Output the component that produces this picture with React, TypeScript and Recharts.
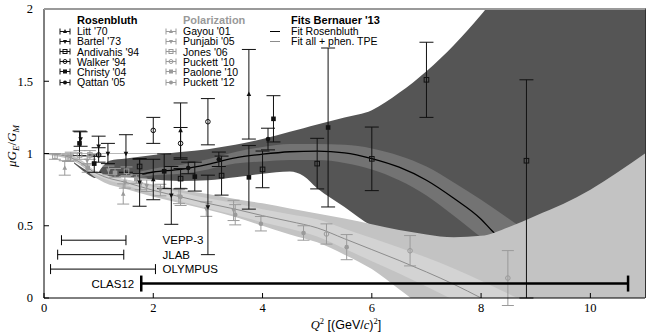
import React from "react";
import {
  ComposedChart,
  Area,
  Line,
  Scatter,
  ErrorBar,
  XAxis,
  YAxis,
  ReferenceDot,
} from "recharts";

// ---------- fit bands ----------
const rosBandX = [0.55, 0.75, 0.95, 1.05, 1.2, 1.5, 2.0, 2.5, 3.0, 3.5, 4.0, 4.5, 4.75, 5.0, 5.5, 6.0, 6.5, 7.0, 7.5, 8.0, 8.5, 9.0, 10.0, 11.0];
const rosBandHi = [0.94, 0.89, 0.85, 0.9, 0.95, 0.965, 0.99, 1.01, 1.03, 1.06, 1.1, 1.15, 1.175, 1.2, 1.25, 1.3, 1.42, 1.57, 1.75, 1.96, 2.2, 2.4, 2.6, 2.8];
const rosBandLo = [0.93, 0.87, 0.83, 0.83, 0.835, 0.835, 0.82, 0.81, 0.815, 0.835, 0.86, 0.875, 0.845, 0.76, 0.63, 0.5, 0.43, 0.41, 0.4, 0.42, 0.44, 0.45, 0.45, 0.45];

const rosStatX = [1.75, 2.0, 2.5, 3.0, 3.5, 4.0, 4.5, 5.0, 5.5, 6.0, 6.5, 7.0, 7.5, 8.0, 8.5, 9.0];
const rosStatHi = [0.875, 0.895, 0.92, 0.96, 1.01, 1.045, 1.065, 1.065, 1.06, 1.035, 0.985, 0.91, 0.8, 0.68, 0.55, 0.42];
const rosStatLo = [0.835, 0.85, 0.86, 0.89, 0.93, 0.945, 0.955, 0.955, 0.935, 0.89, 0.815, 0.71, 0.57, 0.42, 0.28, 0.15];

const rosFitX = [1.75, 2.0, 2.5, 3.0, 3.5, 4.0, 4.5, 5.0, 5.5, 6.0, 6.5, 7.0, 7.5, 8.0, 8.2, 8.5];
const rosFitY = [0.855, 0.872, 0.89, 0.925, 0.97, 0.995, 1.012, 1.017, 1.005, 0.965, 0.905, 0.815, 0.69, 0.545, 0.465, 0.36];

const polBandX = [0, 0.3, 0.5, 0.7, 0.9, 1.1, 1.5, 2.0, 2.5, 3.0, 3.5, 4.0, 4.5, 5.0, 5.5, 6.0, 6.5, 7.0, 7.5, 8.0, 8.5, 9.0, 9.5, 10.0, 10.5, 11.0];
const polBandHi = [1.0, 0.995, 0.985, 0.95, 0.89, 0.855, 0.82, 0.785, 0.75, 0.72, 0.685, 0.655, 0.62, 0.585, 0.55, 0.51, 0.47, 0.44, 0.42, 0.43, 0.49, 0.57, 0.65, 0.75, 0.87, 1.0];
const polBandLo = [0.995, 0.975, 0.955, 0.91, 0.845, 0.8, 0.755, 0.7, 0.655, 0.61, 0.56, 0.5, 0.44, 0.385, 0.3, 0.2, 0.06, -0.08, -0.2, -0.3, -0.4, -0.5, -0.5, -0.5, -0.5, -0.5];

const polFitX = [0, 0.3, 0.5, 0.7, 0.9, 1.1, 1.5, 2.0, 2.5, 3.0, 3.5, 4.0, 4.5, 5.0, 5.5, 6.0, 6.5, 7.0, 7.5, 8.0, 8.5, 9.0];
const polFitY = [1.0, 0.99, 0.97, 0.93, 0.875, 0.84, 0.8, 0.745, 0.7, 0.655, 0.615, 0.57, 0.53, 0.485, 0.41, 0.335, 0.26, 0.18, 0.095, 0.0, -0.1, -0.2];
const polStatHi = [1.0, 0.995, 0.975, 0.94, 0.89, 0.855, 0.82, 0.77, 0.73, 0.69, 0.655, 0.615, 0.58, 0.545, 0.48, 0.415, 0.35, 0.28, 0.205, 0.12, 0.03, -0.06];
const polStatLo = [0.995, 0.985, 0.96, 0.92, 0.86, 0.825, 0.78, 0.72, 0.67, 0.62, 0.575, 0.525, 0.48, 0.425, 0.34, 0.255, 0.17, 0.08, -0.015, -0.12, -0.23, -0.34];

// ---------- data points [Q2, ratio, error] ----------
type Pt = [number, number, number | [number, number]];

const litt70: Pt[] = [[2.0, 0.82, 0.14], [2.5, 1.16, 0.19], [3.75, 1.41, 0.31]];
const bartel73: Pt[] = [[0.67, 1.1, 0.05], [1.0, 1.05, 0.07], [1.17, 1.0, 0.07], [1.5, 1.0, 0.13], [1.75, 0.8, 0.165], [2.33, 0.71, 0.2], [3.0, 0.63, [0.33, 0.22]]];
const andivahis94: Pt[] = [[1.75, 0.91, 0.05], [2.5, 0.826, 0.07], [3.25, 0.847, 0.135], [4.0, 0.89, 0.127], [5.0, 0.93, 0.175], [6.0, 0.963, 0.22], [7.0, 1.51, 0.26], [8.83, 0.95, [0.95, 0.56]]];
const walker94: Pt[] = [[1.0, 0.99, 0.05], [2.0, 1.16, 0.09], [2.5, 1.07, 0.11], [3.0, 1.22, 0.16]];
const christy04: Pt[] = [[0.65, 1.07, 0.085], [0.92, 0.93, 0.06], [2.2, 0.877, 0.12], [2.76, 0.84, 0.1], [3.75, 0.835, 0.22], [4.2, 1.24, 0.16], [5.2, 1.18, 0.55]];
const qattan05: Pt[] = [[2.64, 0.9, 0.04], [3.2, 0.96, 0.05], [4.1, 1.1, 0.075]];

const gayou01: Pt[] = [[0.38, 0.9, 0.05], [1.45, 0.72, 0.07]];
const punjabi05: Pt[] = [[0.49, 0.979, 0.03], [0.79, 0.951, 0.03], [1.18, 0.883, 0.03], [1.48, 0.8, 0.04], [1.77, 0.789, 0.04], [1.88, 0.777, 0.04], [2.13, 0.747, 0.04], [2.47, 0.703, 0.05], [2.97, 0.615, 0.05], [3.47, 0.606, 0.07]];
const jones06: Pt[] = [[0.2, 0.98, 0.02], [0.44, 0.97, 0.025], [0.65, 0.99, 0.03], [0.84, 0.99, 0.03], [1.51, 0.877, 0.03]];
const puckett10: Pt[] = [[5.17, 0.443, 0.07], [6.7, 0.327, 0.105], [8.49, 0.138, 0.19]];
const paolone10: Pt[] = [[0.8, 0.9, 0.03], [1.3, 0.866, 0.03], [1.69, 0.824, 0.03]];
const puckett12: Pt[] = [[2.5, 0.7, 0.06], [3.5, 0.576, 0.07], [3.97, 0.514, 0.05], [4.75, 0.45, 0.05], [5.54, 0.352, 0.087]];

// ---------- kinematic reach of the experiments ----------
const reachNames = ["VEPP-3", "JLAB", "OLYMPUS", "CLAS12"];
const reachFrom = [0.32, 0.25, 0.12, 1.78];
const reachTo = [1.5, 1.46, 2.04, 10.69];
const reachAt = [0.4, 0.3, 0.2, 0.1];

const BLACK = "#111";
const GRAY = "#9a9a9a";
const LABEL_X = 2.17;

const band = (xs: number[], lo: number[], hi: number[]) =>
  xs.map((x, i) => ({ x, r: [lo[i], hi[i]] }));
const curve = (xs: number[], ys: number[]) => xs.map((x, i) => ({ x, y: ys[i] }));
const pts = (p: Pt[]) => p.map(([x, y, e]) => ({ x, y, e }));

const unity = [{ x: 0, y: 1 }, { x: 11, y: 1 }];

type Kind = "triUp" | "triDown" | "sqOpen" | "circOpen" | "sq" | "circ";

function glyph(kind: Kind, color: string, cx: number, cy: number, s = 2.3) {
  switch (kind) {
    case "triUp":
      return <polygon points={`${cx},${cy - s - 0.5} ${cx - s},${cy + s * 0.8} ${cx + s},${cy + s * 0.8}`} fill={color} />;
    case "triDown":
      return <polygon points={`${cx},${cy + s + 0.5} ${cx - s},${cy - s * 0.8} ${cx + s},${cy - s * 0.8}`} fill={color} />;
    case "sqOpen":
      return <rect x={cx - s} y={cy - s} width={2 * s} height={2 * s} fill="none" stroke={color} strokeWidth={1} />;
    case "circOpen":
      return <circle cx={cx} cy={cy} r={s} fill="none" stroke={color} strokeWidth={1} />;
    case "sq":
      return <rect x={cx - s} y={cy - s} width={2 * s} height={2 * s} fill={color} />;
    default:
      return <circle cx={cx} cy={cy} r={s} fill={color} />;
  }
}

const marker = (kind: Kind, color: string) => (p: any) => {
  if (p.cx == null || p.cy == null) return <g />;
  return <g>{glyph(kind, color, p.cx, p.cy)}</g>;
};

const rosSets: { name: string; kind: Kind; data: Pt[] }[] = [
  { name: "Litt '70", kind: "triUp", data: litt70 },
  { name: "Bartel '73", kind: "triDown", data: bartel73 },
  { name: "Andivahis '94", kind: "sqOpen", data: andivahis94 },
  { name: "Walker '94", kind: "circOpen", data: walker94 },
  { name: "Christy '04", kind: "sq", data: christy04 },
  { name: "Qattan '05", kind: "circ", data: qattan05 },
];
const polSets: { name: string; kind: Kind; data: Pt[] }[] = [
  { name: "Gayou '01", kind: "triUp", data: gayou01 },
  { name: "Punjabi '05", kind: "triDown", data: punjabi05 },
  { name: "Jones '06", kind: "sqOpen", data: jones06 },
  { name: "Puckett '10", kind: "circOpen", data: puckett10 },
  { name: "Paolone '10", kind: "sq", data: paolone10 },
  { name: "Puckett '12", kind: "circ", data: puckett12 },
];

const reach = reachNames.map((name, i) => ({
  name,
  x: (reachFrom[i] + reachTo[i]) / 2,
  y: reachAt[i],
  xe: (reachTo[i] - reachFrom[i]) / 2,
}));

const sans = '"Liberation Sans", Arial, sans-serif';
const serif = '"Liberation Serif", "Times New Roman", serif';
const LEG_FONT = 10.5;

const LegendGlyph: React.FC<{ kind: Kind; color: string }> = ({ kind, color }) => (
  <svg width={12} height={9} style={{ position: "absolute", left: -18, top: 0.5 }}>
    <line x1={1} x2={11} y1={4.5} y2={4.5} stroke={color} strokeWidth={1} />
    <line x1={1} x2={1} y1={1.5} y2={7.5} stroke={color} strokeWidth={1} />
    <line x1={11} x2={11} y1={1.5} y2={7.5} stroke={color} strokeWidth={1} />
    {glyph(kind, color, 6, 4.5, 2)}
  </svg>
);

const rowTop = [26, 36.3, 46.5, 56.7, 66.8, 77];

const LegendColumn: React.FC<{
  left: number;
  title: string;
  titleColor: string;
  sets: { name: string; kind: Kind }[];
  color: string;
}> = ({ left, title, titleColor, sets, color }) => (
  <>
    <div style={{ position: "absolute", left, top: 15, fontWeight: "bold", color: titleColor, fontSize: LEG_FONT + 0.5, lineHeight: "10px", whiteSpace: "nowrap" }}>
      {title}
    </div>
    {sets.map((s, i) => (
      <div key={s.name} style={{ position: "absolute", left, top: rowTop[i], fontSize: LEG_FONT, lineHeight: "10px", whiteSpace: "nowrap" }}>
        <LegendGlyph kind={s.kind} color={color} />
        {s.name}
      </div>
    ))}
  </>
);

export default function App() {
  return (
    <div style={{ position: "absolute", left: 0, top: 0, width: 664, height: 334, background: "#fff", fontFamily: sans }}>
      <ComposedChart width={664} height={334} margin={{ top: 9, right: 19, bottom: 16, left: 8 }}>
        <XAxis
          type="number"
          dataKey="x"
          domain={[0, 11]}
          ticks={[0, 2, 4, 6, 8, 10]}
          allowDataOverflow
          height={20}
          tickSize={-5}
          tickMargin={10}
          axisLine={{ stroke: "#000" }}
          tickLine={{ stroke: "#000" }}
          tick={{ fontFamily: serif, fontSize: 12.5, fill: "#000" }}
        />
        <YAxis
          type="number"
          domain={[0, 2]}
          ticks={[0, 0.5, 1, 1.5, 2]}
          allowDataOverflow
          width={36}
          tickSize={-5}
          tickMargin={16}
          axisLine={{ stroke: "#000" }}
          tickLine={{ stroke: "#000" }}
          tick={{ fontFamily: serif, fontSize: 12.5, fill: "#000" }}
        />
        {/* lines drawn as stroke-only areas so that they stay in paint order with the bands */}
        <Area data={unity} dataKey="y" type="linear" fill="none" stroke="#b8b8b8" strokeWidth={1} dot={false} activeDot={false} isAnimationActive={false} />

        <Area data={band(rosBandX, rosBandLo, rosBandHi)} dataKey="r" type="monotone" fill="#555555" fillOpacity={1} stroke="none" isAnimationActive={false} />
        <Area data={band(rosStatX, rosStatLo, rosStatHi)} dataKey="r" type="monotone" fill="#737373" fillOpacity={1} stroke="none" isAnimationActive={false} />
        <Area data={curve(rosFitX, rosFitY)} dataKey="y" type="monotone" fill="none" stroke="#000" strokeWidth={1.3} dot={false} activeDot={false} isAnimationActive={false} />

        <Area data={band(polBandX, polBandLo, polBandHi)} dataKey="r" type="monotone" fill="#c3c3c3" fillOpacity={1} stroke="none" isAnimationActive={false} />
        <Area data={band(polFitX, polStatLo, polStatHi)} dataKey="r" type="monotone" fill="#d3d3d3" fillOpacity={1} stroke="none" isAnimationActive={false} />
        <Line data={curve(polFitX, polFitY)} dataKey="y" type="monotone" stroke="#8c8c8c" strokeWidth={1} dot={false} activeDot={false} isAnimationActive={false} />

        {polSets.map((s) => (
          <Scatter key={s.name} name={s.name} data={pts(s.data)} dataKey="y" shape={marker(s.kind, GRAY)} isAnimationActive={false}>
            <ErrorBar dataKey="e" direction="y" width={6} stroke={GRAY} strokeWidth={1} />
          </Scatter>
        ))}
        {rosSets.map((s) => (
          <Scatter key={s.name} name={s.name} data={pts(s.data)} dataKey="y" shape={marker(s.kind, BLACK)} isAnimationActive={false}>
            <ErrorBar dataKey="e" direction="y" width={7} stroke={BLACK} strokeWidth={1} />
          </Scatter>
        ))}

        <Scatter data={reach.slice(0, 3)} dataKey="y" shape={() => <g />} isAnimationActive={false}>
          <ErrorBar dataKey="xe" direction="x" width={5} stroke="#000" strokeWidth={1} />
        </Scatter>
        <Scatter data={reach.slice(3)} dataKey="y" shape={() => <g />} isAnimationActive={false}>
          <ErrorBar dataKey="xe" direction="x" width={8} stroke="#000" strokeWidth={2.5} />
        </Scatter>

        {reach.slice(0, 3).map((r) => (
          <ReferenceDot
            key={r.name}
            x={LABEL_X}
            y={r.y}
            r={1}
            shape={(p: any) => (
              <text x={p.cx} y={p.cy} dy="0.35em" fontFamily={sans} fontSize={11.5} fill="#000">
                {r.name}
              </text>
            )}
          />
        ))}
        <ReferenceDot
          x={reachFrom[3]}
          y={reachAt[3]}
          r={1}
          shape={(p: any) => (
            <text x={p.cx - 7} y={p.cy} dy="0.35em" textAnchor="end" fontFamily={sans} fontSize={11.5} fill="#000">
              {reachNames[3]}
            </text>
          )}
        />
      </ComposedChart>

      {/* plot frame: top and right edges */}
      <div
        style={{
          position: "absolute",
          left: 44,
          top: 8,
          width: 602,
          height: 290,
          borderTop: "2px solid #9a9a9a",
          borderRight: "1px solid #333",
          boxSizing: "border-box",
          pointerEvents: "none",
        }}
      />

      <LegendColumn left={77} title="Rosenbluth" titleColor="#000" sets={rosSets} color={BLACK} />
      <LegendColumn left={183} title="Polarization" titleColor="#999" sets={polSets} color={GRAY} />

      <div style={{ position: "absolute", left: 291, top: 15, fontWeight: "bold", fontSize: LEG_FONT + 0.5, lineHeight: "10px", whiteSpace: "nowrap" }}>
        Fits Bernauer '13
      </div>
      <div style={{ position: "absolute", left: 291, top: 26, fontSize: LEG_FONT, lineHeight: "10px", whiteSpace: "nowrap" }}>
        <span style={{ position: "absolute", left: -21, top: 5, width: 10, height: 1.3, background: "#000" }} />
        Fit Rosenbluth
      </div>
      <div style={{ position: "absolute", left: 291, top: 36.3, fontSize: LEG_FONT, lineHeight: "10px", whiteSpace: "nowrap" }}>
        <span style={{ position: "absolute", left: -21, top: 5, width: 10, height: 1, background: "#8c8c8c" }} />
        Fit all + phen. TPE
      </div>

      {/* axis titles */}
      <div
        style={{
          position: "absolute",
          left: 14,
          top: 146,
          transform: "translate(-50%, -50%) rotate(-90deg)",
          fontFamily: serif,
          fontSize: 13,
          whiteSpace: "nowrap",
          lineHeight: "14px",
        }}
      >
        <i>μG</i>
        <sub style={{ fontSize: 9 }}>
          <i>E</i>
        </sub>
        /<i>G</i>
        <sub style={{ fontSize: 9 }}>
          <i>M</i>
        </sub>
      </div>
      <div
        style={{
          position: "absolute",
          left: 346,
          top: 323,
          transform: "translate(-50%, -50%)",
          fontSize: 12.5,
          whiteSpace: "nowrap",
          lineHeight: "14px",
        }}
      >
        <i style={{ fontFamily: serif }}>Q</i>
        <sup style={{ fontSize: 8.5, fontFamily: serif }}>2</sup> [(GeV/<i style={{ fontFamily: serif }}>c</i>)
        <sup style={{ fontSize: 8.5, fontFamily: serif }}>2</sup>]
      </div>
    </div>
  );
}
